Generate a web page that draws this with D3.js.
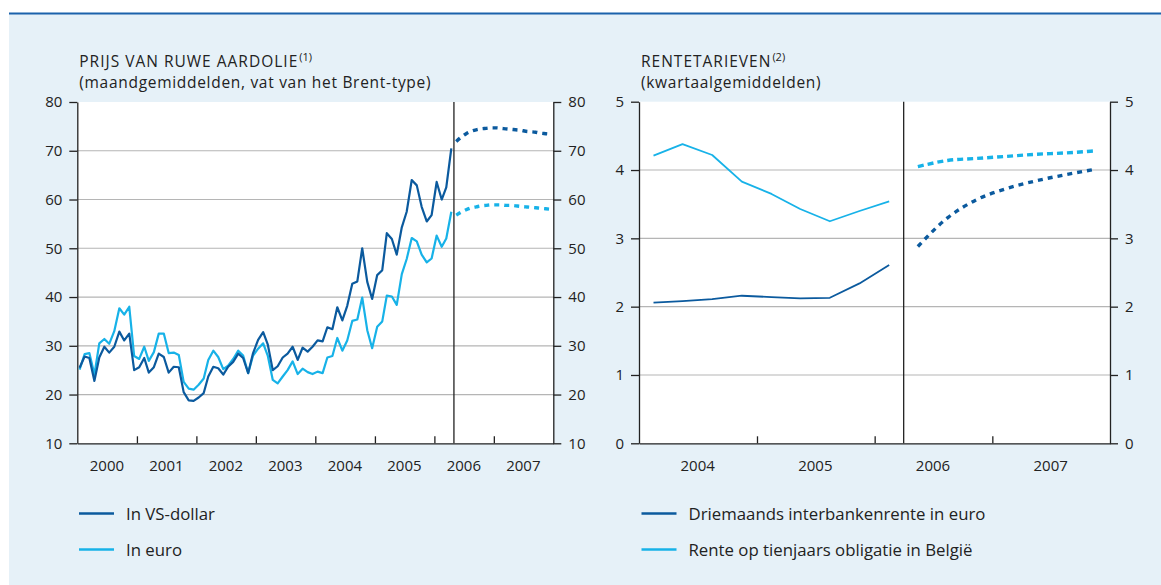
<!DOCTYPE html>
<html>
<head>
<meta charset="utf-8">
<script src="https://cdn.jsdelivr.net/npm/d3@7"></script>
<style>
  body { margin: 0; background: #fff; }
  svg text { font-family: "Open Sans", "Noto Sans", sans-serif; fill: #222; }
</style>
</head>
<body>
<div id="main"></div>
<script>
// DATA

// Brent, monthly averages from Jan 2000 to Apr 2006
var usdPrice = [
  25.5, 27.8, 27.5, 22.8, 27.6, 29.8, 28.6, 29.8, 32.9, 31.1, 32.5, 25.0,
  25.6, 27.5, 24.5, 25.6, 28.4, 27.7, 24.5, 25.7, 25.6, 20.5, 18.8, 18.7,
  19.4, 20.3, 23.7, 25.7, 25.4, 24.1, 25.7, 26.7, 28.4, 27.5, 24.4, 28.5,
  31.2, 32.8, 30.3, 25.0, 25.8, 27.6, 28.4, 29.8, 27.1, 29.6, 28.8, 29.8,
  31.1, 30.9, 33.8, 33.4, 37.9, 35.2, 38.2, 42.7, 43.2, 50.0, 43.1, 39.6,
  44.5, 45.5, 53.1, 51.9, 48.7, 54.3, 57.5, 64.0, 62.9, 58.5, 55.5, 56.8,
  63.6, 60.0, 62.5, 70.5
]
var eurPrice = [
  25.1, 28.3, 28.5, 24.1, 30.5, 31.4, 30.4, 33.0, 37.7, 36.4, 38.0, 27.9,
  27.3, 29.8, 26.9, 28.7, 32.5, 32.5, 28.5, 28.6, 28.1, 22.6, 21.2, 21.0,
  22.0, 23.3, 27.1, 29.0, 27.7, 25.2, 25.9, 27.3, 29.0, 28.0, 24.4, 28.0,
  29.4, 30.5, 28.0, 23.0, 22.3, 23.7, 25.0, 26.8, 24.2, 25.3, 24.6, 24.2,
  24.7, 24.4, 27.6, 27.9, 31.6, 29.0, 31.1, 35.1, 35.4, 39.9, 33.2, 29.5,
  33.9, 35.0, 40.3, 40.1, 38.4, 44.7, 47.8, 52.1, 51.4, 48.7, 47.1, 47.9,
  52.6, 50.3, 52.0, 57.5
]
// Futures, May 2006 to Dec 2007
var usdFutures = [71.9, 72.8, 73.5, 74.0, 74.3, 74.5, 74.6, 74.7, 74.7, 74.6, 74.5, 74.4,
  74.3, 74.2, 74.0, 73.9, 73.8, 73.6, 73.5, 73.4]
var eurFutures = [56.8, 57.4, 57.9, 58.3, 58.5, 58.7, 58.8, 58.9, 58.9, 58.9, 58.8, 58.8,
  58.7, 58.6, 58.5, 58.4, 58.3, 58.2, 58.1, 58.0]

var oilYears = [2000, 2001, 2002, 2003, 2004, 2005, 2006, 2007]
var oilTicks = [10, 20, 30, 40, 50, 60, 70, 80]

// Interest rates, quarterly, Q1 2004 to Q1 2006
var euribor3m = [2.06, 2.08, 2.11, 2.16, 2.14, 2.12, 2.13, 2.34, 2.61]
var bond10y = [4.21, 4.38, 4.22, 3.83, 3.65, 3.43, 3.25, 3.40, 3.54]
// Projections, Q2 2006 to Q4 2007
var euriborProj = [2.88, 3.30, 3.57, 3.73, 3.84, 3.93, 4.01]
var bondProj = [4.05, 4.14, 4.17, 4.20, 4.23, 4.25, 4.28]

var rateYears = [2004, 2005, 2006, 2007]
var rateTicks = [0, 1, 2, 3, 4, 5]

var darkBlue = '#0b5a9e'
var lightBlue = '#17b2e8'

// HELPERS
function monthDate(start, i) { return new Date(start[0], start[1] + i, 15) }
function quarterDate(start, i) { return new Date(start[0], start[1] + 3 * i + 1, 15) }

var W = 1161, H = 585
var svg = d3.select('#main').append('svg')
  .attr('width', W).attr('height', H)
  .attr('xmlns', 'http://www.w3.org/2000/svg')

// Panel background and top rule
svg.append('rect').attr('x', 9).attr('y', 14).attr('width', W - 9).attr('height', H - 14).attr('fill', '#e6f1f8')
svg.append('line').attr('x1', 9).attr('x2', W).attr('y1', 13.5).attr('y2', 13.5)
  .attr('stroke', '#1b62ab').attr('stroke-width', 2.2)

// Generic panel drawing
function drawPanel(opt) {
  var g = svg.append('g')
  var x = d3.scaleTime().domain(opt.xDomain).range([opt.x0, opt.x1])
  var y = d3.scaleLinear().domain(opt.yDomain).range([opt.y1, opt.y0])

  g.append('rect').attr('x', opt.x0).attr('y', opt.y0)
    .attr('width', opt.x1 - opt.x0).attr('height', opt.y1 - opt.y0).attr('fill', '#fff')

  // grid
  g.selectAll('line.grid')
    .data(opt.ticks.slice(1, -1))
    .join('line')
      .attr('class', 'grid')
      .attr('x1', opt.x0).attr('x2', opt.x1)
      .attr('y1', d => y(d)).attr('y2', d => y(d))
      .attr('stroke', '#b5b5b5').attr('stroke-width', 1.2)

  // vertical separator between data and projections
  g.append('line')
    .attr('x1', x(opt.split)).attr('x2', x(opt.split))
    .attr('y1', opt.y0).attr('y2', opt.y1)
    .attr('stroke', '#222').attr('stroke-width', 1.3)

  // y axes (left and right)
  var fmt = d3.format('d')
  var axL = g.append('g').attr('transform', `translate(${opt.x0},0)`)
    .call(d3.axisLeft(y).tickValues(opt.ticks).tickFormat(fmt).tickSize(8).tickSizeOuter(0).tickPadding(7))
  var axR = g.append('g').attr('transform', `translate(${opt.x1},0)`)
    .call(d3.axisRight(y).tickValues(opt.ticks).tickFormat(fmt).tickSize(8).tickSizeOuter(0).tickPadding(7))
  for (ax of [axL, axR]) {
    ax.selectAll('path, line').attr('stroke', '#222').attr('stroke-width', 1.3)
    ax.selectAll('text').style('font-size', '15px').attr('fill', '#222')
  }

  // x axis with year boundaries ticks pointing up
  var years = opt.years
  var bounds = years.slice(1).map(yr => new Date(yr, 0, 1))
  var axB = g.append('g').attr('transform', `translate(0,${opt.y1})`)
    .call(d3.axisBottom(x).tickValues(bounds).tickSize(-7).tickSizeOuter(0).tickFormat(''))
  axB.selectAll('path, line').attr('stroke', '#222').attr('stroke-width', 1.3)

  g.selectAll('text.year')
    .data(years)
    .join('text')
      .attr('class', 'year')
      .attr('x', d => x(new Date(d, 6, 1)))
      .attr('y', opt.y1 + 28)
      .attr('text-anchor', 'middle')
      .style('font-size', '15px')
      .text(d => d)

  // title lines, spaced so their boxes do not collide, and superscript note
  var t1 = g.append('text').attr('x', opt.x0 + 2).attr('y', 66.5)
    .style('font-size', '15.5px').style('letter-spacing', '1px').text(opt.title)
  g.append('text').attr('x', opt.x0 + 2).attr('y', 88)
    .style('font-size', '15.5px').style('letter-spacing', '0.7px').text(opt.subtitle)
  var tw = t1.node().getComputedTextLength()
  g.append('text').attr('x', opt.x0 + 3 + tw).attr('y', 60.5).style('font-size', '11px').text(opt.note)

  return {g: g, x: x, y: y}
}

function drawSeries(p, dates, values, color, width, dash) {
  var line = d3.line()
    .x((d, i) => p.x(dates(i)))
    .y(d => p.y(d))
  if (dash) line.curve(d3.curveMonotoneX)
  p.g.append('path')
    .datum(values)
    .attr('d', line)
    .attr('fill', 'none')
    .attr('stroke', color)
    .attr('stroke-width', width)
    .attr('stroke-linejoin', 'round')
    .attr('stroke-dasharray', dash || null)
}

// LEFT PANEL: oil price
var oil = drawPanel({
  x0: 77.3, x1: 553.3, y0: 102, y1: 443.3,
  xDomain: [new Date(2000, 0, 1), new Date(2008, 0, 1)],
  yDomain: [10, 80], ticks: oilTicks, years: oilYears,
  split: new Date(2006, 4, 1),
  title: 'PRIJS VAN RUWE AARDOLIE', note: '(1)',
  subtitle: '(maandgemiddelden, vat van het Brent-type)'
})
drawSeries(oil, i => monthDate([2000, 0], i), eurPrice, lightBlue, 2.2)
drawSeries(oil, i => monthDate([2000, 0], i), usdPrice, darkBlue, 2.2)
drawSeries(oil, i => monthDate([2006, 4], i), eurFutures, lightBlue, 3.4, '5,5')
drawSeries(oil, i => monthDate([2006, 4], i), usdFutures, darkBlue, 3.4, '5,5')

// RIGHT PANEL: interest rates
var rates = drawPanel({
  x0: 639, x1: 1110, y0: 101.7, y1: 443.3,
  xDomain: [new Date(2004, 0, 1), new Date(2008, 0, 1)],
  yDomain: [0, 5], ticks: rateTicks, years: rateYears,
  split: new Date(2006, 3, 1),
  title: 'RENTETARIEVEN', note: '(2)',
  subtitle: '(kwartaalgemiddelden)'
})
drawSeries(rates, i => quarterDate([2004, 0], i), bond10y, lightBlue, 1.8)
drawSeries(rates, i => quarterDate([2004, 0], i), euribor3m, darkBlue, 1.8)
drawSeries(rates, i => quarterDate([2006, 3], i), bondProj, lightBlue, 3.4, '6,4')
drawSeries(rates, i => quarterDate([2006, 3], i), euriborProj, darkBlue, 3.4, '5,5')

// LEGENDS
var legends = [
  {x: 79, y: 513.5, label: 'In VS-dollar', color: darkBlue},
  {x: 79, y: 549.5, label: 'In euro', color: lightBlue},
  {x: 641.5, y: 513.5, label: 'Driemaands interbankenrente in euro', color: darkBlue},
  {x: 641.5, y: 549.5, label: 'Rente op tienjaars obligatie in België', color: lightBlue}
]
var lg = svg.append('g').selectAll('g').data(legends).join('g')
  .attr('transform', d => `translate(${d.x},${d.y})`)
lg.append('line').attr('x1', 0).attr('x2', 35).attr('stroke', d => d.color).attr('stroke-width', 2.5)
lg.append('text').attr('x', 47).attr('y', 6).style('font-size', '16.8px').text(d => d.label)
</script>
</body>
</html>
